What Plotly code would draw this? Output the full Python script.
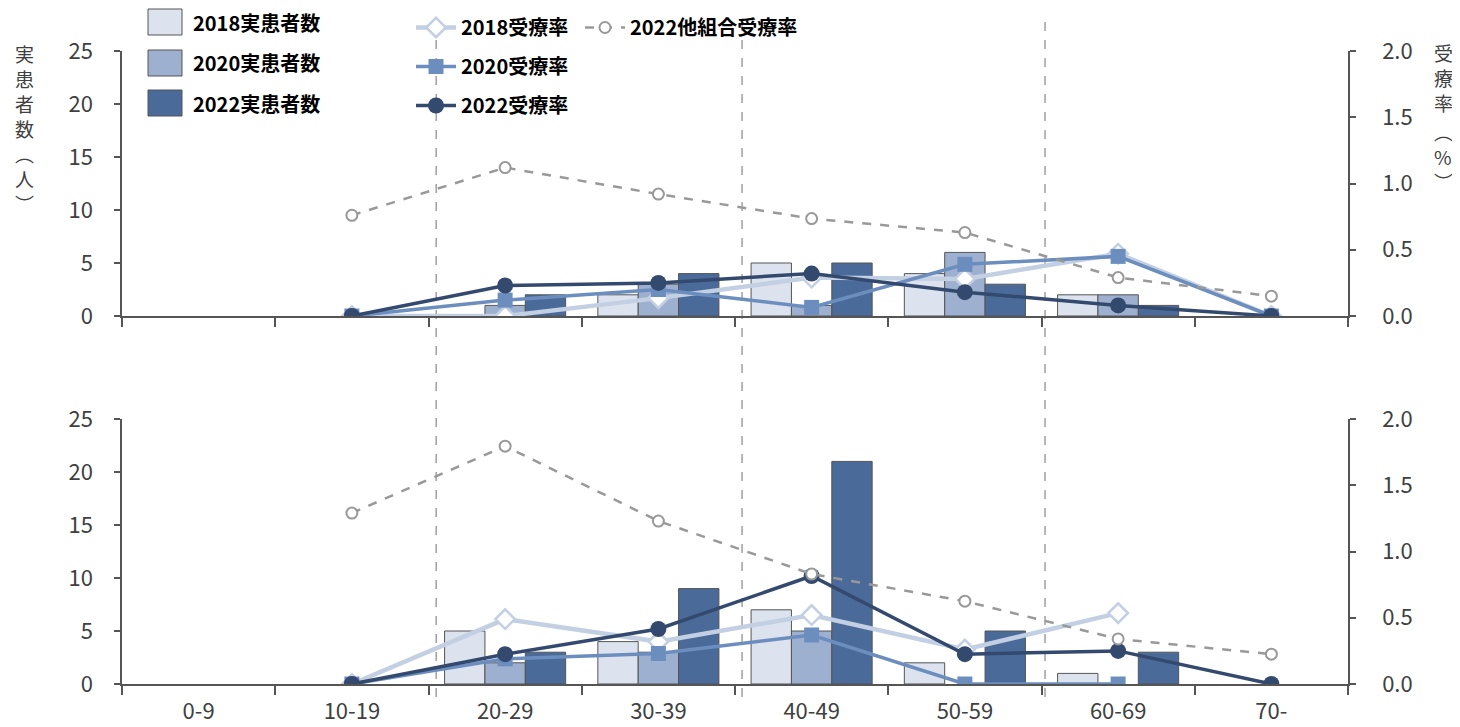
import plotly.graph_objects as go

categories = ["0-9", "10-19", "20-29", "30-39", "40-49", "50-59", "60-69", "70-"]

# upper panel
top_pat_2018 = [None, None, None, 2, 5, 4, 2, None]
top_pat_2020 = [None, None, 1, 3, 1, 6, 2, None]
top_pat_2022 = [None, None, 2, 4, 5, 3, 1, None]
top_rate_2018 = [None, 0, 0, 0.135, 0.29, 0.28, 0.47, 0]
top_rate_2020 = [None, 0, 0.12, 0.20, 0.065, 0.39, 0.45, 0]
top_rate_2022 = [None, 0, 0.23, 0.25, 0.32, 0.18, 0.08, 0]
top_rate_other = [None, 0.76, 1.12, 0.92, 0.735, 0.63, 0.29, 0.15]

# lower panel
bot_pat_2018 = [None, None, 5, 4, 7, 2, 1, None]
bot_pat_2020 = [None, None, 2, 3, 5, None, None, None]
bot_pat_2022 = [None, None, 3, 9, 21, 5, 3, None]
bot_rate_2018 = [None, 0, 0.49, 0.32, 0.52, 0.26, 0.535, None]
bot_rate_2020 = [None, 0, 0.19, 0.23, 0.37, 0, 0, None]
bot_rate_2022 = [None, 0, 0.225, 0.415, 0.815, 0.225, 0.25, 0]
bot_rate_other = [None, 1.29, 1.795, 1.23, 0.83, 0.625, 0.34, 0.225]

bar_names = ["2018実患者数", "2020実患者数", "2022実患者数"]
rate_names = ["2018受療率", "2020受療率", "2022受療率"]
other_name = "2022他組合受療率"
left_title = ["実", "患", "者", "数", "︵", "人", "︶"]
right_title = ["受", "療", "率", "︵", "%", "︶"]

bar_colors = ["#DCE3EE", "#9EB0CF", "#4A6B9A"]
c18, c20, c22, cother = "#C3CFE2", "#6C8EBF", "#34496E", "#999999"

FONT = "Noto Sans CJK JP"
fig = go.Figure()


def add_panel(pats, rates, other, xa, ya, ya2, show):
    for i, (name, vals, col) in enumerate(zip(bar_names, pats, bar_colors)):
        fig.add_trace(go.Bar(
            x=categories, y=vals, name=name, xaxis=xa, yaxis=ya,
            marker=dict(color=col, line=dict(color="#555555", width=1)),
            offsetgroup=str(i), showlegend=False))
    styles = [
        dict(color=c18, width=4.5, sym="diamond", size=15, fill="white", lc=c18, lw=2.5),
        dict(color=c20, width=3.5, sym="square", size=15, fill=c20, lc=c20, lw=0),
        dict(color=c22, width=3.5, sym="circle", size=16, fill=c22, lc=c22, lw=0),
    ]
    for name, vals, st in zip(rate_names, rates, styles):
        fig.add_trace(go.Scatter(
            x=categories, y=vals, name=name, xaxis=xa, yaxis=ya2,
            mode="lines+markers",
            line=dict(color=st["color"], width=st["width"]),
            marker=dict(symbol=st["sym"], size=st["size"], color=st["fill"],
                        line=dict(color=st["lc"], width=st["lw"])),
            showlegend=show, legend="legend2", legendgroup=name))
    fig.add_trace(go.Scatter(
        x=categories, y=other, name=other_name, xaxis=xa, yaxis=ya2,
        mode="lines+markers",
        line=dict(color=cother, width=2.5, dash="dash"),
        marker=dict(symbol="circle", size=11, color="white",
                    line=dict(color=cother, width=2)),
        showlegend=show, legend="legend3", legendgroup=other_name))


add_panel([top_pat_2018, top_pat_2020, top_pat_2022],
          [top_rate_2018, top_rate_2020, top_rate_2022], top_rate_other,
          "x", "y", "y2", True)
add_panel([bot_pat_2018, bot_pat_2020, bot_pat_2022],
          [bot_rate_2018, bot_rate_2020, bot_rate_2022], bot_rate_other,
          "x2", "y3", "y4", False)

# page body has an 8px margin -> figure is drawn offset by 8px
OFF = 8
W, H = 1460 - OFF, 727 - OFF
ml = 122 - OFF
mr = W - (1348 - OFF)
mt = 51 - OFF
mb = H - (684 - OFF)
ph = H - mt - mb
pw = W - ml - mr


def fx(px):
    return (px - OFF - ml) / pw


def fy(py):
    return (H - mb - (py - OFF)) / ph


top_dom = [fy(316), 1.0]
bot_dom = [0.0, fy(419)]

tickfont = dict(family=FONT, size=22, color="#404040")
axis_line = dict(showline=True, linecolor="#555555", linewidth=1.5,
                 ticks="outside", tickcolor="#555555", tickwidth=1.5,
                 showgrid=False, zeroline=False, automargin=False)

xcommon = dict(type="category", categoryorder="array", categoryarray=categories,
               range=[-0.5, 7.5], tickson="boundaries", ticklen=9, **axis_line)
ycommon = dict(range=[0, 25], dtick=5, ticklen=6, tickfont=tickfont,
               ticklabelstandoff=17, **axis_line)
y2common = dict(range=[0, 2], dtick=0.5, tickformat=".1f", ticklen=6,
                tickfont=tickfont, side="right", ticklabelstandoff=22, **axis_line)

fig.update_layout(
    width=W, height=H,
    margin=dict(l=ml, r=mr, t=mt, b=mb, autoexpand=False),
    paper_bgcolor="white", plot_bgcolor="rgba(0,0,0,0)",
    barmode="group", bargap=0.21, bargroupgap=0,
    font=dict(family=FONT, size=20, color="#222222"),
    xaxis=dict(domain=[0, 1], anchor="y", showticklabels=False, **xcommon),
    xaxis2=dict(domain=[0, 1], anchor="y3", tickfont=tickfont,
                ticklabelstandoff=7, **xcommon),
    yaxis=dict(domain=top_dom, anchor="x", **ycommon),
    yaxis2=dict(overlaying="y", anchor="x", **y2common),
    yaxis3=dict(domain=bot_dom, anchor="x2", **ycommon),
    yaxis4=dict(overlaying="y3", anchor="x2", **y2common),
)

legend_common = dict(
    orientation="v", yanchor="top", xanchor="left", y=1 + 5 / H,
    xref="container", yref="container",
    bgcolor="rgba(0,0,0,0)", tracegroupgap=10, itemwidth=40,
    font=dict(family=FONT, size=20, color="#000000", weight="bold"))
fig.update_layout(
    legend2=dict(x=(411 - OFF) / W, **legend_common),
    legend3=dict(x=(580 - OFF) / W, **legend_common),
)

# manual legend for the bar series (large swatches)
row_y = [22, 63, 103]
for name, col, ry in zip(bar_names, bar_colors, row_y):
    fig.add_shape(type="rect", xref="paper", yref="paper",
                  x0=fx(148), x1=fx(182), y0=fy(ry + 13), y1=fy(ry - 13),
                  line=dict(color="#555555", width=1), fillcolor=col)
    fig.add_annotation(text=f"<b>{name}</b>", xref="paper", yref="paper",
                       x=fx(191), y=fy(ry), xanchor="left", yanchor="middle",
                       showarrow=False,
                       font=dict(family=FONT, size=20, color="#000000"))

# vertical dashed separators (in category units)
for xv in [1.55, 3.546, 5.523]:
    fig.add_shape(type="line", xref="x", yref="paper",
                  x0=xv, x1=xv, y0=fy(697), y1=fy(14),
                  line=dict(color="#888888", width=1.2, dash="dash"), layer="below")

# axis titles (vertical text, one glyph per annotation)
for k, ch in enumerate(left_title):
    fig.add_annotation(text=ch, xref="paper", yref="paper",
                       x=fx(24), y=fy(53 + 25 * k), xanchor="center", yanchor="middle",
                       showarrow=False,
                       font=dict(family=FONT, size=19, color="#404040"))
for k, ch in enumerate(right_title):
    fig.add_annotation(text=ch, xref="paper", yref="paper",
                       x=fx(1443), y=fy(52 + 25 * k + (4 if k >= 3 else 0)),
                       xanchor="center", yanchor="middle", showarrow=False,
                       font=dict(family=FONT, size=19, color="#404040"))

fig.write_html("out.html")
